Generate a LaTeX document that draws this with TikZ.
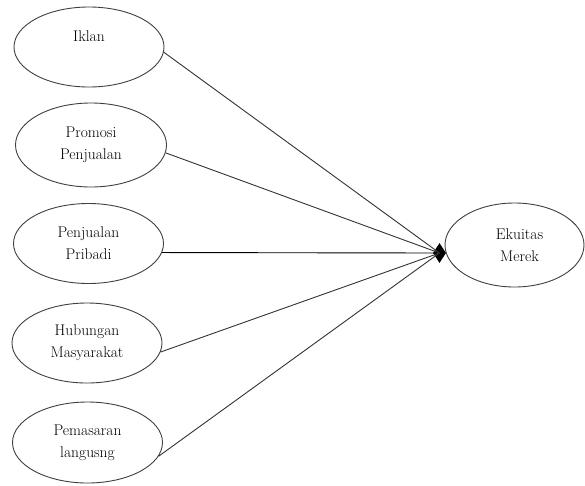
\documentclass[tikz,border=0pt]{standalone}
\usetikzlibrary{shapes.geometric}
\begin{document}
\begin{tikzpicture}[x=1pt,y=-1pt,
  oval/.style={ellipse,draw=black!75,line width=0.9pt,minimum width=150pt,minimum height=80pt,inner sep=0pt,align=center,font=\fontsize{15.5}{22}\selectfont},
  link/.style={draw=black!80,line width=0.9pt}]
\useasboundingbox[fill=white] (0,0) rectangle (585,485);
\node[oval] (a) at (89,47) {Iklan\\\mbox{}};
\node[oval,minimum width=151pt,minimum height=84pt] (b) at (91,145) {Promosi\\Penjualan};
\node[oval] (c) at (88.5,243.5) {Penjualan\\Pribadi};
\node[oval] (d) at (87,343) {Hubungan\\Masyarakat};
\node[oval,minimum height=81pt] (e) at (87.5,442.5) {Pemasaran\\langusng};
\node[oval,minimum width=139pt,minimum height=84pt] (f) at (514.5,245) {\hspace*{10pt}Ekuitas\\\hspace*{10pt}Merek};
\node[diamond,fill=black,inner sep=0pt,minimum width=13pt,minimum height=20pt] (tip) at (439.5,253) {};
\draw[link] (a.-4.6) -- (tip.center);
\draw[link] (b.-6) -- (tip.center);
\draw[link,draw=black] (c.-7) -- (tip.center);
\draw[link] (d.-7) -- (tip.center);
\draw[link] (e.-11) -- (tip.center);
\end{tikzpicture}
\end{document}
